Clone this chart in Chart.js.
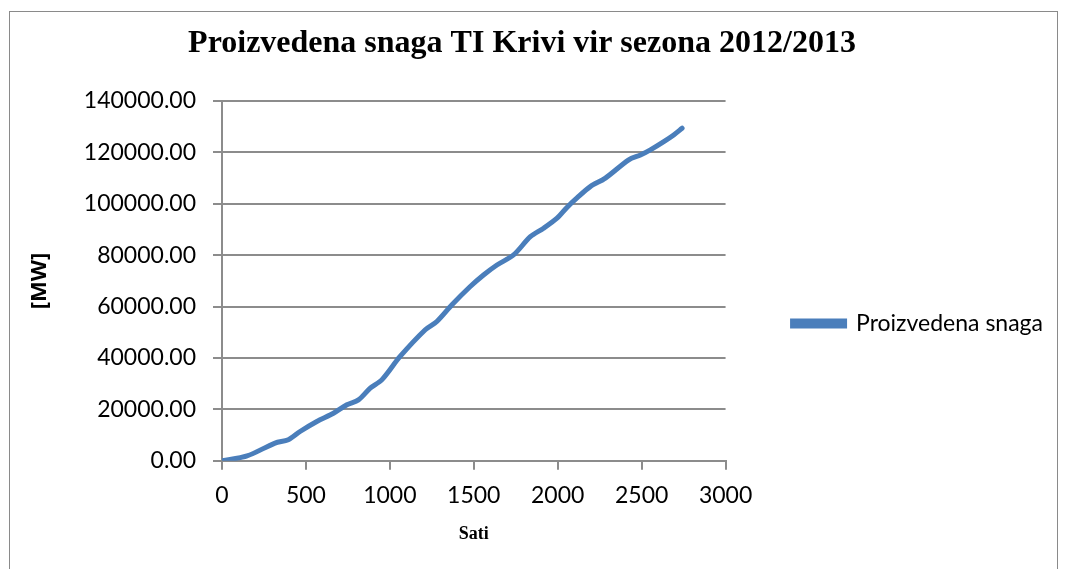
<!DOCTYPE html>
<html>
<head>
<meta charset="utf-8">
<script src="https://cdn.jsdelivr.net/npm/chart.js@4"></script>
<style>
  body { margin: 0; background: #fff; }
  #wrap { position: relative; width: 1067px; height: 569px; overflow: hidden; }
  #frame { position: absolute; left: 9px; top: 11px; width: 1049px; height: 600px; border: 1px solid #8a8a8a; box-sizing: border-box; }
  canvas { position: absolute; left: -12px; top: 0; }
</style>
</head>
<body>
<div id="wrap">
  <div id="frame"></div>
  <canvas id="chart" width="1067" height="569"></canvas>
</div>
<script>
// sati (hours) and produced power
const hours = [0, 149, 316, 395, 465, 565, 664, 744, 813, 883, 952, 1061, 1211, 1280, 1370, 1479, 1558, 1638, 1737, 1837, 1916, 1996, 2055, 2115, 2194, 2284, 2423, 2493, 2552, 2632, 2691, 2741];
const power = [0, 1900, 6900, 8200, 11400, 15300, 18500, 21800, 23700, 28300, 31500, 40600, 51000, 54200, 60700, 67800, 72300, 76200, 80100, 87200, 90500, 94400, 98600, 102300, 106700, 110000, 117100, 119000, 121000, 124200, 126800, 129400];

const seriesName = 'Proizvedena snaga';
const chartTitle = 'Proizvedena snaga TI Krivi vir sezona 2012/2013';
const xTitle = 'Sati';
const yTitle = '[MW]';

const gridGray = '#8c8c8c';
const lineBlue = '#4a7ebb';

const points = hours.map((h, i) => ({ x: h, y: power[i] }));

// legend sits a bit lower than the middle of the plot in the original
const legendShift = {
  id: 'legendShift',
  afterLayout(chart) {
    chart.legend.top += 39;
    chart.legend.bottom += 39;
  }
};

new Chart(document.getElementById('chart'), {
  type: 'line',
  data: {
    datasets: [{
      label: seriesName,
      data: points,
      borderColor: lineBlue,
      backgroundColor: lineBlue,
      borderWidth: 5,
      pointRadius: 0,
      tension: 0.3,
      borderCapStyle: 'round'
    }]
  },
  plugins: [legendShift],
  options: {
    responsive: false,
    animation: false,
    layout: { padding: { left: 3, top: 12, right: 2, bottom: 12 } },
    plugins: {
      title: {
        display: true,
        text: chartTitle,
        color: '#000',
        font: { family: 'Liberation Serif', size: 32, weight: 'bold' },
        padding: { top: 13, bottom: 37.6 }
      },
      legend: {
        position: 'right',
        maxWidth: 328,
        labels: {
          color: '#000',
          font: { family: 'Lato', size: 23 },
          boxWidth: 52,
          boxHeight: 5,
          padding: 67
        }
      },
      tooltip: { enabled: false }
    },
    scales: {
      x: {
        type: 'linear',
        min: 0,
        max: 3000,
        ticks: { stepSize: 500, color: '#000', font: { family: 'Lato', size: 23 }, padding: 12, maxRotation: 0, callback: v => String(v) },
        grid: { drawOnChartArea: false, drawTicks: true, tickLength: 9, color: gridGray, lineWidth: 2 },
        border: { display: true, color: gridGray, width: 2 },
        title: { display: true, text: xTitle, color: '#000', font: { family: 'Liberation Serif', size: 18, weight: 'bold' }, padding: { top: 2, bottom: 12 } }
      },
      y: {
        min: 0,
        max: 140000,
        afterFit: s => { s.width = 231; },
        ticks: { stepSize: 20000, color: '#000', font: { family: 'Lato', size: 23 }, padding: 17, callback: v => v.toFixed(2) },
        grid: { drawTicks: true, tickLength: 9, color: gridGray, lineWidth: 2 },
        border: { display: true, color: gridGray, width: 2 },
        title: { display: true, text: yTitle, color: '#000', font: { family: 'Open Sans', size: 22, weight: 'bold' }, padding: { top: 36 } }
      }
    }
  }
});
</script>
</body>
</html>
